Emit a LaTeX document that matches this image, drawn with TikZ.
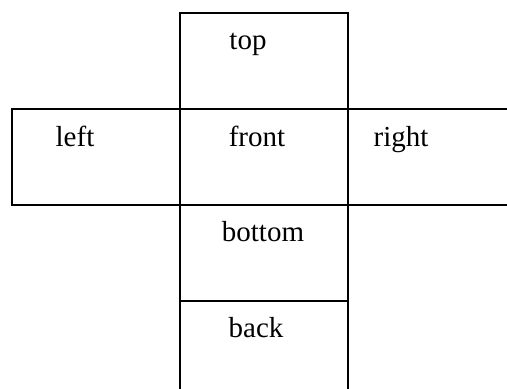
\documentclass[tikz,border=0pt]{standalone}
\usepackage{fontspec}
\setmainfont{Liberation Serif}
\usetikzlibrary{positioning}

\begin{document}
\begin{tikzpicture}[
  x=0.5pt,y=-0.5pt,
  face/.style={draw,line width=1pt,minimum width=84pt,minimum height=48pt,inner sep=0pt,anchor=north west},
  lbl/.style={draw=none,font=\fontsize{14.5}{17}\selectfont,inner sep=0pt,anchor=base}]
  \useasboundingbox (0,0) rectangle (507,389);
  \clip (0,0) rectangle (507,389);
  \node[face](top) at(179,12){};
  \node[face](left) at(11,108){};
  \node[face](front) at(179,108){};
  \node[face](right) at(347,108){};
  \node[face](bottom) at(179,204){};
  \node[face](back) at(179,300){};
  \node[lbl](toplbl) at(248,50){top};
  \node[lbl](leftlbl) at(75,147){left};
  \node[lbl](frontlbl) at(257,147){front};
  \node[lbl](rightlbl) at(401,147){right};
  \node[lbl](bottomlbl) at(263,242){bottom};
  \node[lbl](backlbl) at(256,337){back};
\end{tikzpicture}
\end{document}
